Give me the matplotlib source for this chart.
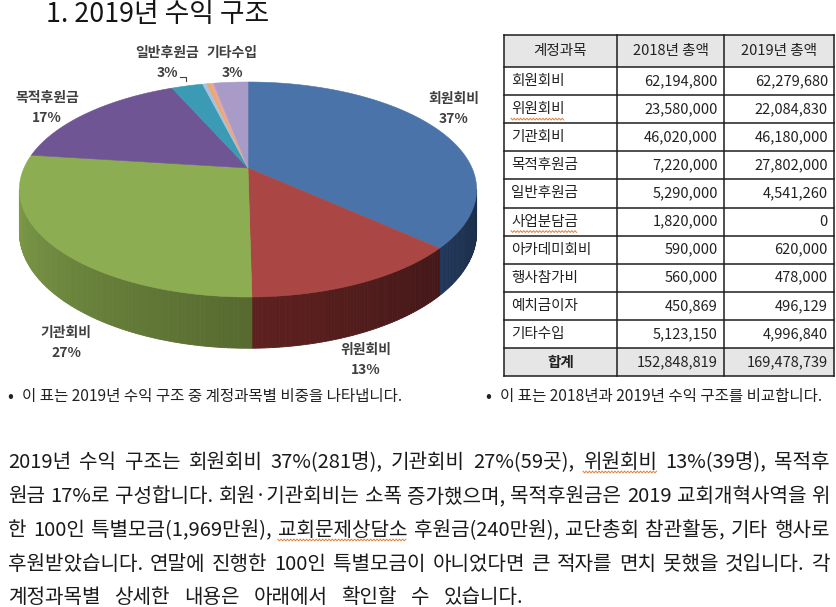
import numpy as np
import matplotlib
matplotlib.use('Agg')
import matplotlib.pyplot as plt
from matplotlib.patches import Polygon, Rectangle
from matplotlib.colors import to_rgb

plt.rcParams['font.family'] = ['Noto Sans CJK KR', 'DejaVu Sans']

# ---------------- data ----------------
title = "1. 2019년 수익 구조"
accounts = ["회원회비", "위원회비", "기관회비", "목적후원금", "일반후원금",
            "사업분담금", "아카데미회비", "행사참가비", "예치금이자", "기타수입"]
values_2018 = [62194800, 23580000, 46020000, 7220000, 5290000,
               1820000, 590000, 560000, 450869, 5123150]
values_2019 = [62279680, 22084830, 46180000, 27802000, 4541260,
               0, 620000, 478000, 496129, 4996840]
col_headers = ["계정과목", "2018년 총액", "2019년 총액"]
total_label = "합계"

pie_label_names = ["회원회비", "위원회비", "기관회비", "목적후원금", "일반후원금", "기타수입"]
pie_label_pcts = [37, 13, 27, 17, 3, 3]

slice_colors = ["#4A74A9", "#AA4744", "#8DAD52", "#6F5593", "#3B9BB5",
                "#F79646", "#A9C0DE", "#F0A860", "#E6A6A4", "#A99BC8"]
side_colors = {0: ("#1B2D46", "#213759"), 1: ("#441719", "#5E211F"),
               2: ("#56692F", "#7D9C48")}

caption_left = "이 표는 2019년 수익 구조 중 계정과목별 비중을 나타냅니다."
caption_right = "이 표는 2018년과 2019년 수익 구조를 비교합니다."
para_lines = [
    "2019년 수익 구조는 회원회비 37%(281명), 기관회비 27%(59곳), 위원회비 13%(39명), 목적후",
    "원금 17%로 구성합니다. 회원·기관회비는 소폭 증가했으며, 목적후원금은 2019 교회개혁사역을 위",
    "한 100인 특별모금(1,969만원), 교회문제상담소 후원금(240만원), 교단총회 참관활동, 기타 행사로",
    "후원받았습니다. 연말에 진행한 100인 특별모금이 아니었다면 큰 적자를 면치 못했을 것입니다. 각",
    "계정과목별 상세한 내용은 아래에서 확인할 수 있습니다.",
]
spell_marks = {0: ["위원회비"], 2: ["교회문제상담소"]}
table_spell_marks = ["위원회비", "사업분담금"]

# ---------------- figure ----------------
W, H = 837, 607
fig = plt.figure(figsize=(W / 100, H / 100), dpi=100)
ax = fig.add_axes([0, 0, 1, 1])
ax.set_xlim(0, W)
ax.set_ylim(H, 0)
ax.axis('off')
renderer = fig.canvas.get_renderer()

SQUIG = "#E0813A"


def squiggle(x0, x1, y):
    xs = np.arange(x0, x1, 1.6)
    ys = y + np.where(np.arange(len(xs)) % 2 == 0, -0.9, 0.9)
    ax.plot(xs, ys, color=SQUIG, lw=0.7, zorder=5)


# title
ax.text(46, 14, title, fontsize=19.3, color="#151515", ha='left', va='center')

# ---------------- 3D pie ----------------
CX, CY0 = 248.0, 168.0
S, A, C = 224.0, 69.6, -0.2
DEPTH = 41.0


def proj(theta_deg, d=0.0):
    th = np.radians(theta_deg)
    X = np.sin(th)
    Z = -np.cos(th)
    w = 1.0 / (1.0 + C * Z)
    return CX + S * X * w, (CY0 + A * Z) * w + d * w


total19 = float(sum(values_2019))
bounds = np.concatenate([[0], np.cumsum(values_2019)]) / total19 * 360.0
V0 = np.degrees(np.arccos(C))
V1 = 360 - V0


def mix(c1, c2, t):
    a, b = np.array(to_rgb(c1)), np.array(to_rgb(c2))
    return tuple(a + (b - a) * t)


# sides
for i, v in enumerate(values_2019):
    if v <= 0:
        continue
    a, b = bounds[i], bounds[i + 1]
    lo, hi = max(a, V0), min(b, V1)
    if lo >= hi:
        continue
    c_lo, c_hi = side_colors.get(i, (slice_colors[i], slice_colors[i]))
    n = max(2, int((hi - lo) / 0.7) + 1)
    ts = np.linspace(lo, hi, n)
    for k in range(n - 1):
        t0, t1 = ts[k], ts[k + 1]
        col = mix(c_lo, c_hi, (0.5 * (t0 + t1) - lo) / (hi - lo))
        p = [proj(t0), proj(t1), proj(t1, DEPTH), proj(t0, DEPTH)]
        ax.add_patch(Polygon(p, closed=True, facecolor=col, edgecolor=col,
                             lw=0.6, zorder=2))

# top faces
for i, v in enumerate(values_2019):
    if v <= 0:
        continue
    a, b = bounds[i], bounds[i + 1]
    ts = np.linspace(a, b, max(3, int((b - a) / 0.5) + 2))
    pts = [(CX, CY0)] + [proj(t) for t in ts]
    ax.add_patch(Polygon(pts, closed=True, facecolor=slice_colors[i],
                         edgecolor=slice_colors[i], lw=0.4, zorder=3))

# labels
label_pos = {"회원회비": (454, 99), "위원회비": (366, 350), "기관회비": (66, 333),
             "목적후원금": (47, 98), "일반후원금": (167, 53), "기타수입": (232, 53)}
for name, pct in zip(pie_label_names, pie_label_pcts):
    x, y = label_pos[name]
    ax.text(x, y, name, fontsize=10, fontweight='bold', color="#404040",
            ha='center', va='center', zorder=6)
    ax.text(x, y + 20, f"{pct}%", fontsize=10, fontweight='bold', color="#404040",
            ha='center', va='center', zorder=6)
ax.plot([180, 186, 186], [76.5, 76.5, 80.5], color="#404040", lw=0.8, zorder=6)

# ---------------- table ----------------
col_x = [504, 617, 724, 834]
row_y = [35, 67] + [67 + 28.1 * k for k in range(1, 12)]
TXT = "#222222"
FS = 10.5
for r_i in (0, 11):
    ax.add_patch(Rectangle((col_x[0], row_y[r_i]), col_x[-1] - col_x[0],
                           row_y[r_i + 1] - row_y[r_i], facecolor="#E7E6E6",
                           edgecolor='none', zorder=1))
for y in row_y:
    ax.plot([col_x[0], col_x[-1]], [y, y], color="#1E1E1E", lw=1.1, zorder=4)
for x in col_x:
    ax.plot([x, x], [row_y[0], row_y[-1]], color="#1E1E1E", lw=1.1, zorder=4)


def cy(r):
    return 0.5 * (row_y[r] + row_y[r + 1])


for j, h in enumerate(col_headers):
    ax.text(0.5 * (col_x[j] + col_x[j + 1]), cy(0), h, fontsize=FS, color=TXT,
            ha='center', va='center')
for k, name in enumerate(accounts):
    r = k + 1
    t = ax.text(511, cy(r), name, fontsize=FS, color=TXT, ha='left', va='center')
    if name in table_spell_marks:
        wpx = t.get_window_extent(renderer).width
        squiggle(511, 511 + wpx, cy(r) + 10)
    ax.text(col_x[2] - 6, cy(r), f"{values_2018[k]:,}", fontsize=FS, color=TXT,
            ha='right', va='center')
    ax.text(col_x[3] - 6, cy(r), f"{values_2019[k]:,}", fontsize=FS, color=TXT,
            ha='right', va='center')
ax.text(0.5 * (col_x[0] + col_x[1]), cy(11), total_label, fontsize=FS,
        fontweight='bold', color=TXT, ha='center', va='center')
ax.text(col_x[2] - 6, cy(11), f"{sum(values_2018):,}", fontsize=FS, color=TXT,
        ha='right', va='center', fontweight='medium')
ax.text(col_x[3] - 6, cy(11), f"{sum(values_2019):,}", fontsize=FS, color=TXT,
        ha='right', va='center', fontweight='medium')

# ---------------- captions ----------------
CFS = 11.2
ax.text(7, 396, "•", fontsize=11, fontweight='bold', color="#222222", ha='left', va='center')
ax.text(22, 396, caption_left, fontsize=CFS, color="#222222", ha='left', va='center')
ax.text(485, 396, "•", fontsize=11, fontweight='bold', color="#222222", ha='left', va='center')
ax.text(500, 396, caption_right, fontsize=CFS, color="#222222", ha='left', va='center')

# ---------------- paragraph (justified) ----------------
PX0, PX1 = 8, 830
PFS = 14.5
base_y = [468, 502, 536, 570, 603]
for li, line in enumerate(para_lines):
    words = line.split(' ')
    texts = [ax.text(0, base_y[li], w, fontsize=PFS, color="#1A1A1A",
                     ha='left', va='baseline') for w in words]
    widths = [t.get_window_extent(renderer).width for t in texts]
    if li == len(para_lines) - 1:
        gap = 14.0
    else:
        gap = (PX1 - PX0 - sum(widths)) / (len(words) - 1)
    x = PX0
    for w, t, wd in zip(words, texts, widths):
        t.set_x(x)
        if w.rstrip(',') in spell_marks.get(li, []):
            squiggle(x, x + wd, base_y[li] + 4)
        x += wd + gap

fig.savefig("out.png", dpi=100)
